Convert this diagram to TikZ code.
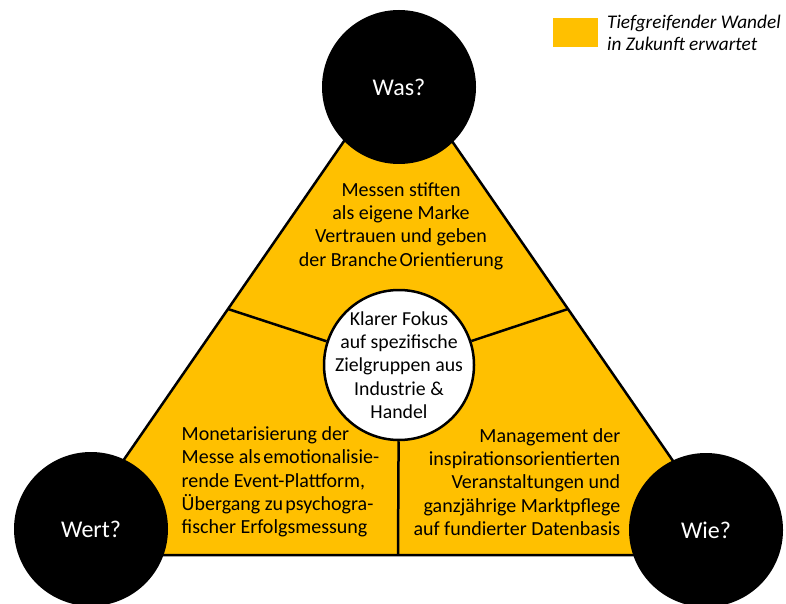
\documentclass[tikz,border=0pt]{standalone}
\usepackage{fontspec}
\setmainfont{Carlito}
\usetikzlibrary{positioning,calc}
\definecolor{gelb}{HTML}{FFC000}

\begin{document}
\begin{tikzpicture}[x=1pt,y=-1pt,thick,node distance=6pt,
                    corner node/.style={circle,fill=black,minimum size=154pt,inner sep=0pt,
                                        text=white,font=\fontsize{24}{28}\selectfont},
                    hub node/.style={circle,draw,line width=2.5pt,fill=white,minimum size=150pt,
                                     inner sep=0pt},
                    field/.style={font=\fontsize{20}{23.3}\selectfont}]
  \useasboundingbox (0,0) rectangle (786,604);
  % triangle
  \coordinate (apex) at (398,63);
  \coordinate (bl) at (58,555);
  \coordinate (br) at (738,555);
  \filldraw[fill=gelb,line width=2.5pt,line join=round] (apex) -- (bl) -- (br) -- cycle;
  \coordinate (lmid) at ($(apex)!0.5!(bl)$);
  \coordinate (rmid) at ($(apex)!0.5!(br)$);
  \coordinate (bmid) at ($(bl)!0.5!(br)$);
  \node[hub node] (hub) at (399,365) {};
  \node[field,align=center,font=\fontsize{19.8}{23.3}\selectfont] (hubtext) at (hub)
    {Klarer Fokus\\auf spezifische\\Zielgruppen aus\\Industrie \&\\Handel};
  \path[line width=2.5pt]
    (hub) edge (lmid)
          edge (rmid)
          edge (bmid);
  % fields
  \node[field,align=center] (top) at (401,226)
    {Messen stiften\\als eigene Marke\\Vertrauen und geben\\der Branche\hspace{0.12em}Orientierung};
  \node[field,align=left,anchor=west] (left) at (178,482)
    {Monetarisierung der\\Messe als\hspace{0.12em}emotionalisie-\\rende Event-Plattform,\\%
     Übergang zu\hspace{0.12em}psychogra-\\fischer Erfolgsmessung};
  \node[field,align=right,anchor=east] (right) at (624,482)
    {Management der\\inspirationsorientierten\\Veranstaltungen und\\ganzjährige Marktpflege\\auf fundierter Datenbasis};
  % corners
  \node[corner node] (was) at (399,87) {Was?};
  \node[corner node] (wert) at (91,529) {Wert?};
  \node[corner node] (wie) at (706,530) {Wie?};
  % legend
  \node[fill=gelb,minimum width=45pt,minimum height=29pt,inner sep=0pt] (key) at (575.5,32.5) {};
  \node[right=5pt of key,align=left,font=\fontsize{19.3}{22}\selectfont\itshape] (keytext)
    {Tiefgreifender Wandel\\in Zukunft erwartet};
\end{tikzpicture}
\end{document}
